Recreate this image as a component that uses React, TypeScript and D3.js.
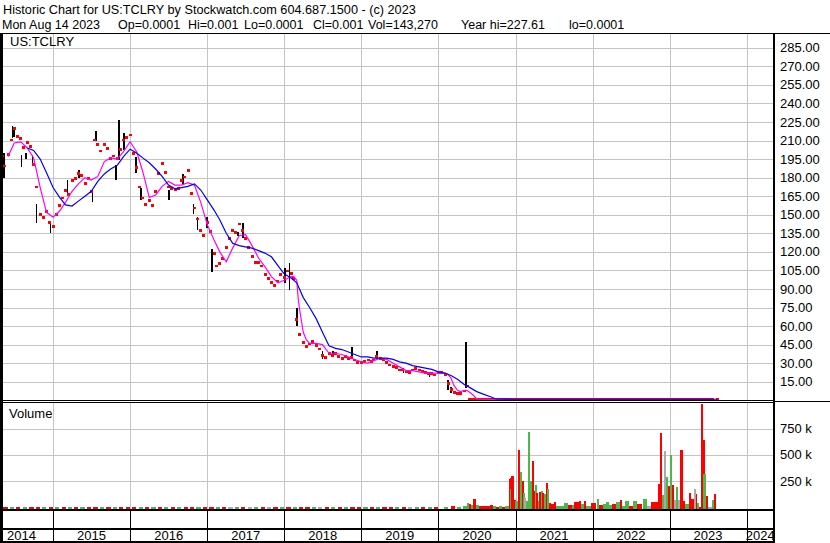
import React from "react";
import * as d3 from "d3";

// ---- header ----
const titleLine = "Historic Chart for US:TCLRY by Stockwatch.com 604.687.1500 - (c) 2023";
const quoteFields = ["Mon Aug 14 2023", "Op=0.0001", "Hi=0.001", "Lo=0.0001", "Cl=0.001", "Vol=143,270", "Year hi=227.61", "lo=0.0001"];
const quoteFieldX = [2, 118, 188, 244, 313, 368, 461, 569];

// ---- price (closes, semi-monthly then monthly once it hits ~0) ----
const priceDates = [
  "2014-05-05", "2014-05-15", "2014-06-01", "2014-06-15", "2014-07-01", "2014-07-15", "2014-08-01", "2014-08-15",
  "2014-09-01", "2014-09-15", "2014-10-01", "2014-10-15", "2014-11-01", "2014-11-15", "2014-12-01", "2014-12-15",
  "2015-01-01", "2015-01-15", "2015-02-01", "2015-02-15", "2015-03-01", "2015-03-15", "2015-04-01", "2015-04-15",
  "2015-05-01", "2015-05-15", "2015-06-01", "2015-06-15", "2015-07-01", "2015-07-15", "2015-08-01", "2015-08-15",
  "2015-09-01", "2015-09-15", "2015-10-01", "2015-10-15", "2015-11-01", "2015-11-15", "2015-12-01", "2015-12-15",
  "2016-01-01", "2016-01-15", "2016-02-01", "2016-02-15", "2016-03-01", "2016-03-15", "2016-04-01", "2016-04-15",
  "2016-05-01", "2016-05-15", "2016-06-01", "2016-06-15", "2016-07-01", "2016-07-15", "2016-08-01", "2016-08-15",
  "2016-09-01", "2016-09-15", "2016-10-01", "2016-10-15", "2016-11-01", "2016-11-15", "2016-12-01", "2016-12-15",
  "2017-01-01", "2017-01-15", "2017-02-01", "2017-02-15", "2017-03-01", "2017-03-15", "2017-04-01", "2017-04-15",
  "2017-05-01", "2017-05-15", "2017-06-01", "2017-06-15", "2017-07-01", "2017-07-15", "2017-08-01", "2017-08-15",
  "2017-09-01", "2017-09-15", "2017-10-01", "2017-10-15", "2017-11-01", "2017-11-15", "2017-12-01", "2017-12-15",
  "2018-01-01", "2018-01-15", "2018-02-01", "2018-02-15", "2018-03-01", "2018-03-15", "2018-04-01", "2018-04-15",
  "2018-05-01", "2018-05-15", "2018-06-01", "2018-06-15", "2018-07-01", "2018-07-15", "2018-08-01", "2018-08-15",
  "2018-09-01", "2018-09-15", "2018-10-01", "2018-10-15", "2018-11-01", "2018-11-15", "2018-12-01", "2018-12-15",
  "2019-01-01", "2019-01-15", "2019-02-01", "2019-02-15", "2019-03-01", "2019-03-15", "2019-04-01", "2019-04-15",
  "2019-05-01", "2019-05-15", "2019-06-01", "2019-06-15", "2019-07-01", "2019-07-15", "2019-08-01", "2019-08-15",
  "2019-09-01", "2019-09-15", "2019-10-01", "2019-10-15", "2019-11-01", "2019-11-15", "2019-12-01", "2019-12-15",
  "2020-01-01", "2020-01-15", "2020-02-01", "2020-02-15", "2020-03-01", "2020-03-15", "2020-04-01", "2020-04-15",
  "2020-05-01", "2020-05-15", "2020-05-26", "2020-07-01", "2020-08-01", "2020-09-01", "2020-10-01", "2020-11-01",
  "2020-12-01", "2021-01-01", "2021-02-01", "2021-03-01", "2021-04-01", "2021-05-01", "2021-06-01", "2021-07-01",
  "2021-08-01", "2021-09-01", "2021-10-01", "2021-11-01", "2021-12-01", "2022-01-01", "2022-02-01", "2022-03-01",
  "2022-04-01", "2022-05-01", "2022-06-01", "2022-07-01", "2022-08-01", "2022-09-01", "2022-10-01", "2022-11-01",
  "2022-12-01", "2023-01-01", "2023-02-01", "2023-03-01", "2023-04-01", "2023-05-01", "2023-06-01", "2023-07-01",
  "2023-08-14",
];
const priceClose = [
  197, 189, 198, 210, 219, 213, 211, 204, 208, 205, 190, 172, 150, 147, 152, 143,
  140, 150, 157, 163, 169, 166, 177, 179, 183, 181, 175, 179, 168, 210, 206, 201,
  206, 203, 195, 197, 195, 202, 210, 212,
  214, 199, 188, 172, 163, 158, 161, 157, 168, 183, 191, 184, 172, 171, 170, 171,
  177, 180, 185, 167, 155, 146, 137, 133,
  143, 136, 118, 108, 110, 114, 123, 130, 137, 135, 142, 137, 130, 123, 116, 111,
  111, 108, 101, 98, 95, 92, 96, 101,
  99, 104, 102, 98, 65, 53, 46, 43, 45, 47, 44, 41, 36, 34, 37, 36,
  37, 35, 33, 35, 33, 34, 32, 30,
  30, 31, 32, 31, 32, 35, 33, 32, 30, 28, 27, 26, 24, 24, 23, 22,
  24, 25, 24, 23, 22, 21, 21, 20,
  22, 22, 20, 13, 8, 6, 5, 5, 7, 11, 0.05, 0.03, 0.02, 0.01, 0.01, 0.008,
  0.005, 0.004, 0.003, 0.003, 0.002, 0.002, 0.002, 0.001,
  0.001, 0.001, 0.001, 0.001, 0.001, 0.001, 0.001, 0.0008,
  0.0008, 0.0005, 0.0005, 0.0005, 0.0003, 0.0003, 0.0002, 0.0002,
  0.0002, 0.0001, 0.0001, 0.0001, 0.0002, 0.0001, 0.0001, 0.0001,
  0.001,
];

// visible high-low bars
const rangeDates = [
  "2014-05-12", "2014-06-22", "2014-07-01", "2014-08-04", "2014-08-27", "2014-09-25", "2014-10-14", "2014-12-20",
  "2015-03-10", "2015-05-04", "2015-07-07", "2015-07-22", "2015-10-27", "2015-11-10", "2015-12-03", "2016-01-30",
  "2016-02-20", "2016-07-04", "2016-09-08", "2016-10-27", "2016-11-15", "2017-01-01", "2017-01-23", "2017-05-27",
  "2017-06-20", "2018-01-03", "2018-01-26", "2018-03-01", "2018-07-01", "2018-08-20", "2018-11-18", "2019-03-15",
  "2019-07-20", "2019-11-20", "2020-02-15", "2020-03-01", "2020-05-12",
];
const rangeLow = [
  180, 212, 213, 189, 195, 192, 143, 135, 166, 180, 160, 210, 178, 194, 202, 184,
  162, 162, 175, 151, 138, 139, 104, 133, 131, 95, 89, 60, 33, 35, 33, 33,
  22, 19, 8, 6, 10,
];
const rangeHigh = [
  200, 222, 221, 198, 200, 198, 159, 143, 178, 186, 168, 218, 190, 227, 216, 197,
  172, 170, 183, 159, 148, 148, 122, 136, 143, 107, 111, 75, 40, 40, 43, 40,
  26, 23, 16, 11, 47,
];

// short moving average (magenta)
const fastMaDates = [
  "2014-06-01", "2014-07-01", "2014-08-01", "2014-09-01", "2014-10-01", "2014-11-01", "2014-12-01",
  "2015-01-01", "2015-02-01", "2015-03-01", "2015-04-01", "2015-05-01", "2015-06-01", "2015-07-01", "2015-08-01",
  "2015-09-01", "2015-10-01", "2015-11-01", "2015-12-01",
  "2016-01-01", "2016-02-01", "2016-03-01", "2016-04-01", "2016-05-01", "2016-06-01", "2016-07-01", "2016-08-01",
  "2016-09-01", "2016-10-01", "2016-11-01", "2016-12-01",
  "2017-01-01", "2017-02-01", "2017-03-01", "2017-04-01", "2017-05-01", "2017-06-01", "2017-07-01", "2017-08-01",
  "2017-09-01", "2017-10-01", "2017-11-01", "2017-12-01",
  "2018-01-01", "2018-02-01", "2018-02-15", "2018-03-01", "2018-03-08", "2018-03-15", "2018-04-01", "2018-04-15",
  "2018-05-01", "2018-06-01", "2018-07-01", "2018-08-01", "2018-09-01", "2018-10-01", "2018-11-01", "2018-12-01",
  "2019-01-01", "2019-02-01", "2019-03-01", "2019-04-01", "2019-05-01", "2019-06-01", "2019-07-01", "2019-08-01",
  "2019-09-01", "2019-10-01", "2019-11-01", "2019-12-01",
  "2020-01-01", "2020-02-01", "2020-02-15", "2020-03-01", "2020-03-15", "2020-04-01", "2020-04-15", "2020-05-01",
  "2020-05-15", "2020-06-01", "2020-06-15", "2020-07-01", "2021-01-01", "2022-01-01", "2023-01-01", "2023-08-14",
];
const fastMaValues = [
  197, 208, 209, 204, 196, 172, 152,
  148, 153, 160, 169, 175, 180, 178, 181, 193, 196, 195, 201,
  209, 201, 185, 164, 166, 173, 177, 174, 174, 176, 174, 160,
  142, 130, 120, 112, 123, 133, 134, 125, 115, 108, 100, 95,
  97, 100, 100, 97, 82, 73, 55, 49,
  46, 46, 45, 38, 38, 37, 35, 33,
  31, 30, 32, 34, 33, 30, 27, 24, 24, 23, 22, 22,
  22, 22, 21, 18, 12, 8, 7, 8,
  8, 6, 4, 1, 0.002, 0.001, 0.001, 0.001,
];

// long moving average (blue)
const slowMaDates = [
  "2014-09-01", "2014-10-01", "2014-11-01", "2014-12-01",
  "2015-01-01", "2015-02-01", "2015-03-01", "2015-04-01", "2015-05-01", "2015-06-01", "2015-07-01", "2015-08-01",
  "2015-09-01", "2015-10-01", "2015-11-01", "2015-12-01",
  "2016-01-01", "2016-02-01", "2016-03-01", "2016-04-01", "2016-05-01", "2016-06-01", "2016-07-01", "2016-08-01",
  "2016-09-01", "2016-10-01", "2016-11-01", "2016-12-01",
  "2017-01-01", "2017-02-01", "2017-03-01", "2017-04-01", "2017-05-01", "2017-06-01", "2017-07-01", "2017-08-01",
  "2017-09-01", "2017-10-01", "2017-11-01", "2017-12-01",
  "2018-01-01", "2018-02-01", "2018-03-01", "2018-04-01", "2018-05-01", "2018-06-01", "2018-07-01", "2018-08-01",
  "2018-09-01", "2018-10-01", "2018-11-01", "2018-12-01",
  "2019-01-01", "2019-02-01", "2019-03-01", "2019-04-01", "2019-05-01", "2019-06-01", "2019-07-01", "2019-08-01",
  "2019-09-01", "2019-10-01", "2019-11-01", "2019-12-01",
  "2020-01-01", "2020-02-01", "2020-03-01", "2020-04-01", "2020-05-01", "2020-06-01", "2020-07-01", "2020-08-01",
  "2020-09-01", "2020-10-01", "2021-01-01", "2022-01-01", "2023-01-01", "2023-08-14",
];
const slowMaValues = [
  204, 202, 195, 184,
  172, 164, 158, 157, 161, 165, 169, 177, 183, 187, 190, 197,
  203, 200, 196, 192, 187, 181, 174, 171, 172, 173, 175, 170,
  162, 154, 146, 135, 127, 125, 124, 123, 121, 119, 116, 109,
  102, 99, 95, 83, 75, 66, 55, 44, 42, 41, 39, 37,
  35, 35, 34, 34, 34, 33, 31, 30, 28, 27, 26, 25,
  23, 22, 20, 17, 13, 10, 7, 5,
  3, 1, 0.8, 0.8, 0.8, 0.8,
];

// ---- volume ----
const volDates = [
  "2014-05-15", "2014-06-15", "2014-07-15", "2014-08-15", "2014-09-15", "2014-10-15", "2014-11-15", "2014-12-15",
  "2015-01-15", "2015-02-15", "2015-03-15", "2015-04-15", "2015-05-15", "2015-06-15", "2015-07-15", "2015-08-15",
  "2015-09-15", "2015-10-15", "2015-11-15", "2015-12-15",
  "2016-01-15", "2016-02-15", "2016-03-15", "2016-04-15", "2016-05-15", "2016-06-15", "2016-07-15", "2016-08-15",
  "2016-09-15", "2016-10-15", "2016-11-15", "2016-12-15",
  "2017-01-15", "2017-02-15", "2017-03-15", "2017-04-15", "2017-05-15", "2017-06-15", "2017-07-15", "2017-08-15",
  "2017-09-15", "2017-10-15", "2017-11-15", "2017-12-15",
  "2018-01-15", "2018-02-15", "2018-03-15", "2018-04-15", "2018-05-15", "2018-06-15", "2018-07-15", "2018-08-15",
  "2018-09-15", "2018-10-15", "2018-11-15", "2018-12-15",
  "2019-01-15", "2019-02-15", "2019-03-15", "2019-04-15", "2019-05-15", "2019-06-15", "2019-07-15", "2019-08-15",
  "2019-09-15", "2019-10-15", "2019-11-15", "2019-12-15",
  "2020-01-31", "2020-03-05", "2020-04-02", "2020-04-30", "2020-05-19", "2020-05-28", "2020-06-07", "2020-06-16",
  "2020-06-30", "2020-07-15", "2020-08-02", "2020-08-21", "2020-09-04", "2020-09-19", "2020-10-03", "2020-10-17",
  "2020-10-31", "2020-11-14",
  "2020-12-03", "2020-12-08", "2020-12-12", "2020-12-17", "2020-12-31", "2021-01-05", "2021-01-19", "2021-01-28",
  "2021-02-07", "2021-02-09", "2021-02-16", "2021-02-26", "2021-03-07", "2021-03-17", "2021-03-26", "2021-04-02",
  "2021-04-07", "2021-04-14", "2021-04-21", "2021-04-28", "2021-05-05", "2021-05-12", "2021-05-19", "2021-05-29",
  "2021-06-05", "2021-06-12", "2021-06-19", "2021-07-08", "2021-07-18", "2021-08-06", "2021-08-25", "2021-09-13",
  "2021-10-02", "2021-10-11", "2021-11-04", "2021-11-11", "2021-11-28", "2021-12-07", "2021-12-31", "2022-01-28",
  "2022-02-07", "2022-02-26", "2022-03-10", "2022-03-26", "2022-04-09", "2022-04-28", "2022-05-17", "2022-05-27",
  "2022-06-10", "2022-06-29", "2022-07-18", "2022-08-06", "2022-09-03", "2022-09-18", "2022-10-09", "2022-10-28",
  "2022-11-13", "2022-11-23", "2022-12-02", "2022-12-12", "2022-12-21", "2022-12-31", "2023-01-09", "2023-01-18",
  "2023-01-28", "2023-02-04", "2023-02-13", "2023-02-25", "2023-03-11", "2023-03-21", "2023-04-08", "2023-04-16",
  "2023-05-02", "2023-05-09", "2023-05-16", "2023-05-26", "2023-06-04", "2023-06-14", "2023-06-15", "2023-06-25",
  "2023-07-07", "2023-07-26", "2023-08-04",
];
const volValues = [
  5000, 4000, 6000, 3000, 4000, 6000, 4000, 5000,
  4000, 5000, 3000, 5000, 4000, 6000, 4000, 3000, 5000, 4000, 4000, 5000,
  5000, 4000, 4000, 3000, 5000, 4000, 4000, 5000, 4000, 3000, 5000, 4000,
  4000, 5000, 4000, 3000, 4000, 4000, 5000, 3000, 4000, 4000, 5000, 4000,
  5000, 4000, 6000, 4000, 4000, 3000, 5000, 4000, 4000, 3000, 4000, 4000,
  3000, 4000, 4000, 3000, 4000, 4000, 3000, 4000, 4000, 3000, 4000, 4000,
  8000, 10000, 6000, 15000, 45000, 30000, 25000, 85000,
  20000, 15000, 12000, 10000, 25000, 10000, 8000, 12000,
  8000, 15000,
  270000, 280000, 180000, 300000, 75000, 60000, 550000, 340000,
  255000, 140000, 90000, 60000, 715000, 250000, 445000, 155000,
  215000, 140000, 60000, 150000, 155000, 140000, 125000, 235000,
  180000, 45000, 30000, 50000, 15000, 15000, 40000, 25000,
  25000, 50000, 60000, 30000, 60000, 15000, 40000, 80000,
  25000, 30000, 50000, 25000, 30000, 55000, 70000, 15000,
  60000, 15000, 60000, 30000, 85000, 15000, 50000, 50000,
  220000, 705000, 120000, 540000, 290000, 205000, 500000, 210000,
  75000, 190000, 75000, 550000, 60000, 30000, 140000, 85000,
  180000, 130000, 45000, 5000, 985000, 645000, 315000, 110000,
  5000, 75000, 125000,
];
// d = down (red), u = up (green), n = unchanged (grey)
const volDir = [
  "d", "u", "d", "u", "d", "d", "u", "d",
  "u", "d", "u", "d", "u", "d", "d", "u", "d", "u", "d", "d",
  "d", "u", "d", "u", "d", "u", "d", "u", "d", "d", "u", "d",
  "d", "u", "d", "n", "u", "d", "n", "u", "d", "n", "d", "u",
  "d", "u", "d", "d", "u", "n", "d", "u", "d", "u", "d", "d",
  "u", "d", "u", "d", "d", "u", "d", "n", "u", "d", "u", "d",
  "u", "d", "u", "u", "u", "d", "u", "d",
  "u", "d", "d", "d", "d", "u", "d", "u",
  "d", "u",
  "d", "d", "u", "d", "d", "u", "d", "u",
  "d", "u", "n", "u", "u", "u", "d", "d",
  "u", "d", "u", "d", "u", "d", "u", "d",
  "u", "d", "d", "d", "u", "u", "u", "d",
  "u", "d", "d", "u", "d", "u", "d", "u",
  "d", "u", "u", "u", "d", "u", "d", "u",
  "u", "d", "u", "d", "u", "n", "d", "d",
  "d", "d", "u", "n", "u", "d", "u", "d",
  "n", "u", "n", "d", "d", "u", "d", "d",
  "n", "d", "u", "d", "d", "d", "u", "d",
  "n", "u", "d",
];

const priceTicks = [15, 30, 45, 60, 75, 90, 105, 120, 135, 150, 165, 180, 195, 210, 225, 240, 255, 270, 285];
const volTicks = [250000, 500000, 750000];
const yearLabels = [2014, 2015, 2016, 2017, 2018, 2019, 2020, 2021, 2022, 2023, 2024];

const dirColor: Record<string, string> = { d: "#ff0000", u: "#4cb84c", n: "#aaaaaa" };

export default function App() {
  const parse = d3.timeParse("%Y-%m-%d");
  const P = (s: string) => parse(s) as Date;

  const plotLeft = 2;
  const plotRight = 774;
  const priceTop = 34;
  const priceBottom = 400.5;
  const volTop = 403;
  const volBottom = 509;

  const x = d3.scaleTime().domain([P("2014-05-04"), P("2024-05-10")]).range([plotLeft, plotRight]);
  const y = d3.scaleLinear().domain([0, 285]).range([400.25, 47.8]);
  const yv = d3.scaleLinear().domain([0, 750000]).range([507.5, 428.5]);

  const font = "'Liberation Sans', Arial, sans-serif";

  const closePts = priceDates.map((d, i) => ({ x: x(P(d)), y: y(priceClose[i]) }));
  const fastLine = d3.line<number>()
    .x((_, i) => x(P(fastMaDates[i])))
    .y((v) => y(v));
  const slowLine = d3.line<number>()
    .x((_, i) => x(P(slowMaDates[i])))
    .y((v) => y(v));

  const volPts = volDates.map((d, i) => ({ x: x(P(d)), v: volValues[i], c: dirColor[volDir[i]] }));

  const yearBounds = yearLabels.slice(1).map((yr) => x(new Date(yr, 0, 1)));

  return (
    <svg
      width={830}
      height={543}
      style={{ position: "fixed", left: 0, top: 0, background: "#fff" }}
      fontFamily={font}
    >
      <defs>
        <clipPath id="pclip">
          <rect x={plotLeft} y={priceTop} width={plotRight - plotLeft} height={priceBottom - priceTop} />
        </clipPath>
        <clipPath id="vclip">
          <rect x={plotLeft} y={volTop} width={plotRight - plotLeft} height={volBottom - volTop} />
        </clipPath>
      </defs>
      <rect x={0} y={0} width={830} height={543} fill="#fff" />

      {/* header */}
      <text x={3} y={13.5} fontSize={12.7} fill="#000">{titleLine}</text>
      {quoteFields.map((t, i) => (
        <text key={t} x={quoteFieldX[i]} y={28.5} fontSize={12.5} fill="#000">{t}</text>
      ))}

      {/* grid */}
      <g shapeRendering="crispEdges" stroke="#c4c4c4" strokeWidth={1}>
        {priceTicks.map((t) => (
          <line key={t} x1={plotLeft} x2={plotRight} y1={Math.round(y(t)) + 0.5} y2={Math.round(y(t)) + 0.5} />
        ))}
        {yearBounds.map((bx, i) => (
          <line key={i} x1={Math.round(bx) + 0.5} x2={Math.round(bx) + 0.5} y1={priceTop} y2={priceBottom} />
        ))}
        {volTicks.map((t) => (
          <line key={t} x1={plotLeft} x2={plotRight} y1={Math.round(yv(t)) + 0.5} y2={Math.round(yv(t)) + 0.5} />
        ))}
        {yearBounds.map((bx, i) => (
          <line key={"v" + i} x1={Math.round(bx) + 0.5} x2={Math.round(bx) + 0.5} y1={volTop} y2={volBottom} />
        ))}
      </g>

      <text x={10} y={46} fontSize={13} fill="#000">US:TCLRY</text>
      <text x={9} y={418} fontSize={13} fill="#000">Volume</text>

      {/* price marks */}
      <g clipPath="url(#pclip)">
        <g shapeRendering="crispEdges" fill="#000">
          {rangeDates.map((d, i) => (
            <rect
              key={d}
              x={x(P(d)) - 0.8}
              y={y(rangeHigh[i])}
              width={1.7}
              height={Math.max(1, y(rangeLow[i]) - y(rangeHigh[i]))}
            />
          ))}
        </g>
        <g shapeRendering="crispEdges" fill="#ff0000">
          {closePts.map((p, i) => {
            const gap = i < closePts.length - 1 ? closePts[i + 1].x - p.x : 3;
            const w = gap > 4 ? Math.min(gap + 0.5, 7.5) : 3;
            return <rect key={i} x={p.x - 1.3} y={p.y - 2} width={w} height={2.8} />;
          })}
        </g>
        <path d={fastLine(fastMaValues) || ""} fill="none" stroke="#ff00ff" strokeWidth={1.2} />
        <path d={slowLine(slowMaValues) || ""} fill="none" stroke="#0000ff" strokeWidth={1.2} />
      </g>

      {/* volume bars */}
      <g clipPath="url(#vclip)" shapeRendering="crispEdges">
        {volPts.map((p, i) => {
          const gap = i < volPts.length - 1 ? volPts[i + 1].x - p.x : 2;
          const w = Math.max(1.8, Math.min(gap, 4.2));
          return (
            <rect key={i} x={p.x - 0.9} y={yv(p.v)} width={w} height={Math.max(1, yv(0) - yv(p.v) + 1.5)} fill={p.c} />
          );
        })}
      </g>

      {/* frame */}
      <g shapeRendering="crispEdges" stroke="#000" fill="none">
        <line x1={0} x2={830} y1={33.5} y2={33.5} strokeWidth={1} />
        <rect x={0} y={33} width={2.7} height={510} fill="#000" stroke="none" />
        <rect x={plotRight - 1} y={33} width={2} height={510} fill="#000" stroke="none" />
        <line x1={0} x2={plotRight} y1={400.5} y2={400.5} strokeWidth={1} />
        <line x1={0} x2={plotRight} y1={402.5} y2={402.5} strokeWidth={1} />
        <line x1={plotRight} x2={830} y1={401.5} y2={401.5} strokeWidth={1} />
        <rect x={0} y={509} width={plotRight} height={2} fill="#000" stroke="none" />
        <rect x={0} y={527.5} width={plotRight} height={2} fill="#000" stroke="none" />
        <rect x={0} y={541} width={plotRight} height={2} fill="#000" stroke="none" />
        {yearBounds.map((bx, i) => (
          <line key={i} x1={Math.round(bx) + 0.5} x2={Math.round(bx) + 0.5} y1={510} y2={542} strokeWidth={1.5} />
        ))}
      </g>

      {/* right axis labels */}
      {priceTicks.map((t) => (
        <text key={t} x={780} y={y(t)} dy="0.35em" fontSize={13} fill="#000">{d3.format(".2f")(t)}</text>
      ))}
      {volTicks.map((t) => (
        <text key={t} x={780} y={yv(t)} dy="0.35em" fontSize={13} fill="#000">{t / 1000 + " k"}</text>
      ))}

      {/* year labels */}
      {yearLabels.map((yr, i) => {
        const left = i === 0 ? plotLeft : yearBounds[i - 1];
        const right = i < yearBounds.length ? yearBounds[i] : plotRight;
        const first = i === 0;
        return (
          <text
            key={yr}
            x={first ? left + 5 : (left + right) / 2}
            y={539.5}
            fontSize={13}
            textAnchor={first ? "start" : "middle"}
            fill="#000"
          >
            {yr}
          </text>
        );
      })}
    </svg>
  );
}
